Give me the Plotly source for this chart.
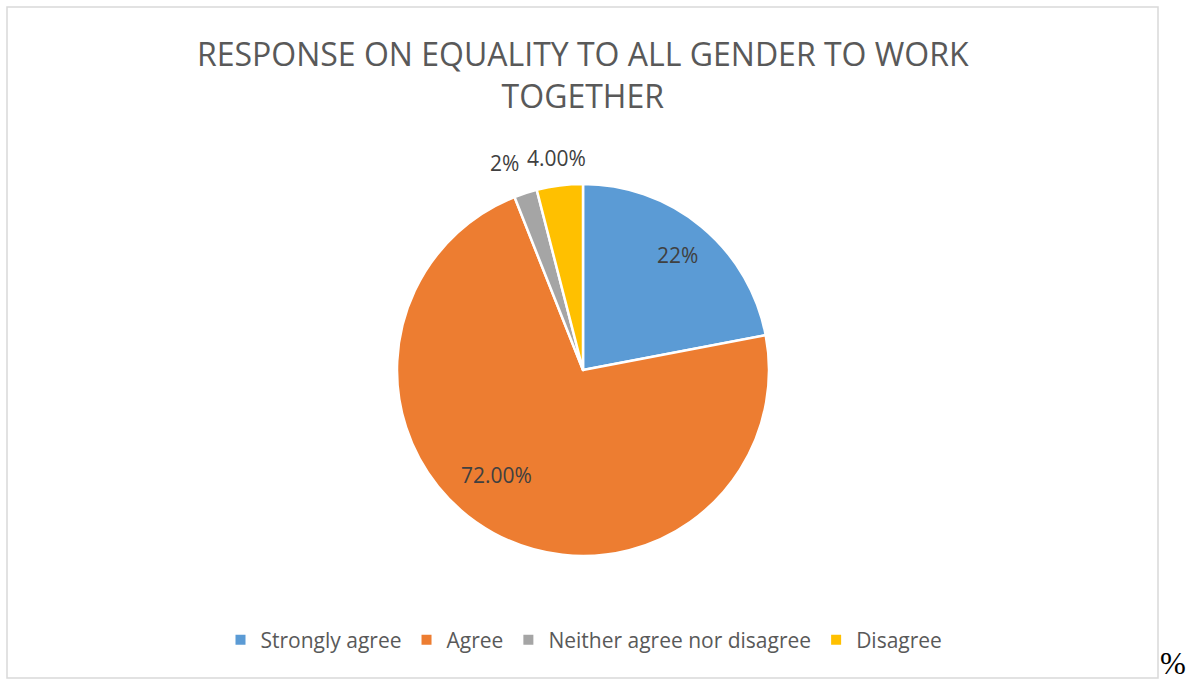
import math
import plotly.graph_objects as go

categories = ["Strongly agree", "Agree", "Neither agree nor disagree", "Disagree"]
values = [22, 72, 2, 4]
label_texts = ["22%", "72.00%", "2%", "4.00%"]
colors = ["#5B9BD5", "#ED7D31", "#A5A5A5", "#FFC000"]

W, H = 1195, 682
# pie geometry (pixels)
CX, CY, R = 583, 370, 186
# label placement styles per slice: radius factor and angular nudge (deg)
label_rf = [0.80, 0.73, 1.19, 1.15]
label_dang = [0.0, 10.5, -2.7, 0.0]

fig = go.Figure()
fig.add_trace(go.Pie(
    labels=categories,
    values=values,
    textinfo="none",
    sort=False,
    direction="clockwise",
    rotation=0,
    marker=dict(colors=colors, line=dict(color="white", width=2.5)),
    domain=dict(x=[(CX - R) / W, (CX + R) / W], y=[(H - CY - R) / H, (H - CY + R) / H]),
    hoverinfo="label+percent",
))

annotations = []
total = sum(values)
cum = 0
for v, t, rf, da in zip(values, label_texts, label_rf, label_dang):
    mid = (cum + v / 2) / total * 360 + da
    cum += v
    a = math.radians(mid)
    px = CX + rf * R * math.sin(a)
    py = CY - rf * R * math.cos(a)
    annotations.append(dict(text=t, xref="paper", yref="paper", x=px / W, y=1 - py / H,
                            xanchor="center", yanchor="middle", showarrow=False,
                            font=dict(family="Open Sans", size=21, color="#404040")))

annotations.append(dict(text="RESPONSE ON EQUALITY TO ALL GENDER TO WORK<br>TOGETHER",
                        xref="paper", yref="paper", x=583 / W, y=1 - 30 / H,
                        xanchor="center", yanchor="top", showarrow=False,
                        font=dict(family="Open Sans", size=32, color="#595959")))
annotations.append(dict(text="%", xref="paper", yref="paper", x=1173 / W, y=1 - 663 / H,
                        xanchor="center", yanchor="middle", showarrow=False,
                        font=dict(family="Liberation Serif, DejaVu Serif, serif", size=31,
                                  color="black")))

fig.update_layout(
    width=W, height=H,
    margin=dict(l=0, r=0, t=0, b=0),
    paper_bgcolor="white",
    showlegend=True,
    legend=dict(
        orientation="h", x=584 / W, xanchor="center", y=1 - 640 / H, yanchor="middle",
        font=dict(family="Open Sans", size=21, color="#595959"),
        itemsizing="constant",
    ),
    shapes=[dict(type="rect", xref="paper", yref="paper",
                 x0=7 / W, x1=1158 / W, y0=1 - 678 / H, y1=1 - 7 / H,
                 line=dict(color="#D9D9D9", width=1.5), fillcolor="rgba(0,0,0,0)")],
    annotations=annotations,
)

fig.write_html("out.html", config={"displayModeBar": False},
               post_script="document.body.style.margin='0';")
